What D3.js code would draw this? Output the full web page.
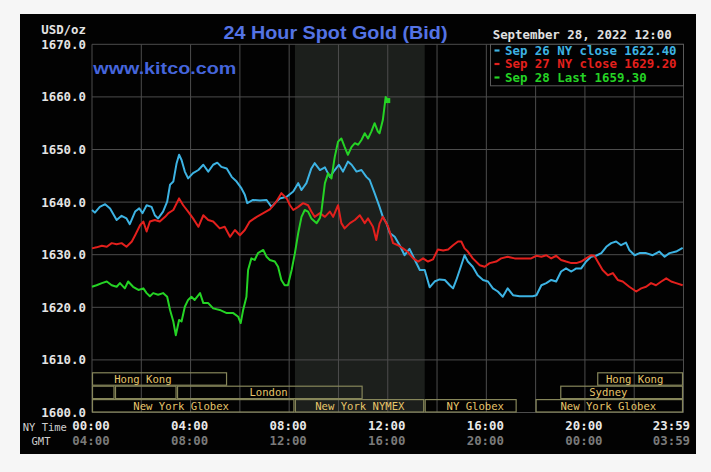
<!DOCTYPE html>
<html lang="en">
<head>
    <meta charset="UTF-8">
    <script src="https://d3js.org/d3.v7.min.js"></script>
    <style>
        body {
            margin: 0;
            background: #f6f6f6;
        }
        .mono { font-family: "DejaVu Sans Mono", monospace; }
        .ylab text, .tlab text {
            font-family: "DejaVu Sans Mono", monospace;
            font-size: 12.4px;
            font-weight: bold;
        }
    </style>
</head>
<body>
    <svg id="chart"></svg>

    <script>
        // y axis ticks (USD/oz)
        const yTicks = [1600, 1610, 1620, 1630, 1640, 1650, 1660, 1670];

        // time labels, minutes after NY midnight
        const labelMinutes = [0, 240, 480, 720, 960, 1200, 1439];
        const nyLabels = ["00:00", "04:00", "08:00", "12:00", "16:00", "20:00", "23:59"];
        const gmtLabels = ["04:00", "08:00", "12:00", "16:00", "20:00", "00:00", "03:59"];

        // series: [minute, price]
        const sep26 = [[0,1638.5],[7,1638.0],[19,1639.1],[32,1639.6],[44,1638.8],[60,1636.6],[72,1637.4],[84,1636.9],[92,1635.8],[105,1638.2],[115,1638.8],[123,1637.9],[133,1639.4],[145,1639.1],[153,1637.5],[161,1636.9],[173,1638.2],[183,1640.1],[190,1643.3],[198,1643.9],[206,1647.4],[212,1649.0],[218,1648.0],[226,1645.8],[234,1644.5],[246,1645.5],[259,1646.1],[271,1647.1],[283,1645.8],[295,1647.1],[305,1647.5],[315,1646.7],[328,1646.4],[340,1644.8],[352,1643.9],[364,1642.6],[372,1641.4],[378,1639.8],[392,1640.4],[409,1640.3],[425,1640.4],[437,1639.1],[449,1640.1],[457,1640.7],[474,1641.0],[490,1642.0],[502,1643.6],[510,1642.3],[522,1643.6],[534,1646.4],[542,1647.4],[555,1646.1],[567,1646.6],[579,1644.8],[591,1646.1],[601,1647.1],[611,1645.8],[623,1647.7],[632,1647.1],[644,1645.8],[656,1646.1],[668,1644.8],[676,1644.2],[688,1641.7],[700,1639.1],[708,1637.2],[717,1636.0],[725,1634.1],[737,1633.4],[749,1631.8],[761,1629.9],[773,1631.1],[786,1629.0],[798,1627.1],[810,1627.1],[822,1623.8],[834,1624.9],[846,1625.3],[859,1625.2],[871,1624.2],[879,1623.6],[887,1625.2],[899,1628.0],[907,1629.9],[915,1628.7],[927,1627.7],[939,1626.1],[952,1625.2],[964,1624.9],[976,1623.6],[988,1623.0],[1000,1622.0],[1012,1623.6],[1025,1622.3],[1041,1622.1],[1057,1622.1],[1073,1622.1],[1082,1622.3],[1094,1624.2],[1106,1624.6],[1118,1625.2],[1130,1624.9],[1142,1626.8],[1154,1627.4],[1167,1626.8],[1179,1627.4],[1191,1627.4],[1203,1628.7],[1215,1629.6],[1227,1629.8],[1240,1630.3],[1252,1631.5],[1264,1632.2],[1276,1632.5],[1288,1631.8],[1300,1632.3],[1308,1630.9],[1321,1629.9],[1333,1630.3],[1349,1630.3],[1365,1629.9],[1381,1630.6],[1394,1629.6],[1406,1630.3],[1422,1630.6],[1438,1631.3]];

        const sep27 = [[0,1631.2],[11,1631.4],[24,1631.7],[36,1631.5],[48,1632.2],[60,1632.0],[72,1632.2],[84,1631.5],[97,1632.5],[105,1633.7],[117,1635.6],[125,1636.3],[133,1634.4],[141,1636.3],[153,1636.6],[165,1636.3],[178,1637.2],[186,1637.9],[198,1638.5],[212,1640.7],[222,1639.4],[234,1638.2],[246,1636.9],[259,1635.3],[271,1637.5],[283,1636.6],[295,1636.3],[311,1635.0],[323,1635.3],[336,1633.4],[348,1634.7],[360,1633.7],[372,1634.7],[384,1636.3],[401,1637.2],[417,1637.9],[433,1638.6],[449,1640.1],[461,1641.7],[474,1640.7],[482,1639.4],[490,1638.5],[502,1639.1],[514,1639.8],[526,1639.4],[534,1638.2],[542,1637.2],[555,1637.9],[567,1637.2],[579,1638.2],[587,1637.2],[599,1639.4],[607,1636.0],[615,1635.0],[628,1636.0],[640,1636.6],[652,1637.5],[664,1636.0],[672,1636.9],[684,1635.3],[692,1632.8],[700,1635.9],[708,1637.2],[721,1635.3],[733,1632.2],[745,1631.8],[757,1631.2],[769,1630.5],[782,1629.3],[794,1628.7],[806,1629.3],[818,1628.7],[830,1629.1],[842,1631.0],[855,1630.8],[867,1631.0],[879,1631.8],[891,1632.5],[899,1632.5],[907,1631.2],[915,1630.6],[927,1629.3],[944,1628.0],[956,1627.7],[968,1628.4],[984,1628.7],[996,1629.3],[1012,1629.6],[1029,1629.3],[1049,1629.3],[1069,1629.3],[1082,1629.8],[1094,1629.6],[1106,1629.9],[1118,1629.3],[1130,1629.8],[1142,1629.0],[1154,1628.7],[1167,1628.4],[1179,1628.4],[1191,1628.7],[1203,1629.3],[1215,1629.9],[1223,1629.8],[1231,1628.7],[1243,1627.1],[1256,1626.1],[1268,1626.5],[1280,1625.2],[1292,1624.9],[1308,1623.9],[1325,1623.0],[1337,1623.6],[1349,1623.9],[1361,1624.6],[1373,1624.2],[1386,1624.9],[1398,1625.5],[1410,1624.9],[1422,1624.6],[1438,1624.2]];

        const sep28 = [[0,1623.9],[11,1624.2],[24,1624.6],[36,1624.9],[48,1624.2],[60,1623.9],[68,1624.6],[80,1623.6],[88,1624.9],[100,1623.9],[113,1623.3],[125,1623.6],[133,1622.7],[141,1622.1],[149,1622.7],[161,1622.4],[173,1622.7],[183,1622.0],[190,1619.5],[198,1617.3],[204,1614.7],[212,1617.6],[218,1617.3],[226,1620.1],[234,1621.4],[242,1622.0],[250,1621.4],[263,1622.7],[271,1620.8],[283,1620.8],[295,1619.8],[311,1619.5],[328,1618.9],[344,1618.9],[356,1618.2],[362,1617.0],[368,1619.5],[376,1622.0],[380,1627.1],[388,1629.3],[396,1629.0],[404,1630.3],[417,1630.9],[425,1629.6],[433,1629.0],[445,1628.7],[453,1627.7],[461,1625.2],[469,1624.2],[477,1624.2],[486,1627.1],[494,1630.3],[502,1634.1],[510,1637.2],[518,1638.5],[526,1638.2],[534,1636.9],[547,1636.0],[555,1637.0],[559,1638.5],[567,1643.6],[575,1645.5],[583,1644.5],[591,1648.6],[599,1651.5],[607,1652.1],[615,1650.5],[623,1649.0],[632,1650.5],[640,1651.2],[648,1650.9],[656,1651.8],[664,1653.1],[672,1652.1],[680,1653.4],[688,1655.0],[696,1653.4],[700,1653.1],[708,1655.6],[715,1660.0],[720,1659.3]];

        const legendTitle = "September 28, 2022 12:00";
        const legendText = ["Sep 26 NY close 1622.40", "Sep 27 NY close 1629.20", "Sep 28 Last 1659.30"];
        const seriesColors = ["#3db3e3", "#e3201d", "#25d325"];

        // trading sessions, minutes
        const sessionNames = ["Hong Kong", "Hong Kong", "", "", "London", "Sydney", "New York Globex", "New York NYMEX", "NY Globex", "New York Globex"];
        const sessionRow   = [0, 0, 1, 1, 1, 1, 2, 2, 2, 2];
        const sessionStart = [0, 1230, 0, 56, 207, 1140, 0, 494, 810, 1080];
        const sessionEnd   = [330, 1440, 56, 207, 660, 1440, 494, 810, 1035, 1440];
        const sessionLabelAt = [124, 1321, null, null, 430, 1257, 217, 652, 933, 1257];
        const nymexOpen = 494, nymexClose = 810;

        const W = 711, H = 472;
        const svg = d3.select("#chart").attr("width", W).attr("height", H);

        const x = d3.scaleLinear().domain([0, 1440]).range([92, 683.5]);
        const y = d3.scaleLinear().domain([1600, 1670]).range([412.5, 44.3]);

        svg.append("rect").attr("x", 20).attr("y", 14).attr("width", 676).attr("height", 440).attr("fill", "#020202");

        // NYMEX hours shading
        svg.append("rect")
            .attr("x", x(nymexOpen)).attr("y", y(1670))
            .attr("width", x(nymexClose) - x(nymexOpen))
            .attr("height", y(1600) - y(1670))
            .attr("fill", "#1c1f1c");

        // grid
        const gridColor = "#4d4d4d";
        svg.append("g").selectAll("line")
            .data(yTicks).enter().append("line")
            .attr("x1", x(0)).attr("x2", x(1440))
            .attr("y1", d => y(d)).attr("y2", d => y(d))
            .attr("stroke", gridColor).attr("stroke-width", 1);
        svg.append("g").selectAll("line")
            .data(d3.range(0, 1441, 120)).enter().append("line")
            .attr("x1", d => x(d)).attr("x2", d => x(d))
            .attr("y1", y(1670)).attr("y2", y(1600))
            .attr("stroke", gridColor).attr("stroke-width", 1);

        // session boxes
        const rowH = 13.4;
        const sess = sessionNames.map((n, i) => ({n, row: sessionRow[i], s: sessionStart[i], e: sessionEnd[i], at: sessionLabelAt[i]}));
        const rowTop = r => y(1600) - rowH * (3 - r);
        svg.append("g").selectAll("rect")
            .data(sess).enter().append("rect")
            .attr("x", d => x(d.s) + 0.5)
            .attr("y", d => rowTop(d.row) + 0.5)
            .attr("width", d => x(d.e) - x(d.s) - 1.5)
            .attr("height", rowH - 1)
            .attr("fill", "none")
            .attr("stroke", "#86865a")
            .attr("stroke-width", 1.2);
        svg.append("g").selectAll("text")
            .data(sess.filter(d => d.n)).enter().append("text")
            .attr("class", "mono")
            .attr("x", d => x(d.at))
            .attr("y", d => rowTop(d.row) + rowH / 2 + 4)
            .attr("text-anchor", "middle")
            .attr("font-size", "10.6px")
            .attr("fill", "#e6c56a")
            .text(d => d.n);

        // legend box covers the grid
        svg.append("rect")
            .attr("x", 490.5).attr("y", y(1670))
            .attr("width", x(1440) - 490.5).attr("height", 41.5)
            .attr("fill", "#020202").attr("stroke", "#5a5a5a");

        // price lines
        const line = d3.line().x(d => x(d[0])).y(d => y(d[1]));
        [sep26, sep27, sep28].forEach((s, i) => {
            svg.append("path")
                .datum(s)
                .attr("d", line)
                .attr("fill", "none")
                .attr("stroke", seriesColors[i])
                .attr("stroke-width", 2)
                .attr("stroke-linejoin", "round");
        });
        const last = sep28[sep28.length - 1];
        svg.append("rect")
            .attr("x", x(last[0]) - 2.5).attr("y", y(last[1]) - 2.5)
            .attr("width", 5).attr("height", 5)
            .attr("fill", seriesColors[2]);

        // y axis labels
        const yAxis = svg.append("g").attr("class", "ylab")
            .attr("transform", "translate(89,0)")
            .call(d3.axisLeft(y).tickValues(yTicks).tickFormat(d3.format(".1f")).tickSize(0).tickPadding(3));
        yAxis.select(".domain").remove();
        yAxis.selectAll("text").attr("fill", "#e4e4e4");

        svg.append("text").attr("class", "mono")
            .attr("x", 86).attr("y", 33.5).attr("text-anchor", "end")
            .attr("font-size", "12.4px").attr("font-weight", "bold")
            .attr("fill", "#e4e4e4").text("USD/oz");

        // time axes
        function timeAxis(labels, yPos, color) {
            const g = svg.append("g").attr("class", "tlab")
                .attr("transform", `translate(0,${yPos})`)
                .call(d3.axisBottom(x).tickValues(labelMinutes).tickFormat((d, i) => labels[i]).tickSize(0).tickPadding(0));
            g.select(".domain").remove();
            g.selectAll("text").attr("fill", color).attr("dy", "0.35em")
                .attr("x", -1.5);
            g.selectAll(".tick").filter(d => d === 1439).select("text")
                .attr("text-anchor", "end").attr("x", 6.5);
        }
        timeAxis(nyLabels, 426, "#e8e8e8");
        timeAxis(gmtLabels, 441, "#7a7a7a");

        svg.append("text").attr("class", "mono")
            .attr("x", 22.7).attr("y", 430.5)
            .attr("font-size", "10.5px").attr("fill", "#cfcfcf").text("NY Time");
        svg.append("text").attr("class", "mono")
            .attr("x", 31.5).attr("y", 444.5)
            .attr("font-size", "10.5px").attr("fill", "#cfcfcf").text("GMT");

        // titles
        svg.append("text")
            .attr("x", 335.5).attr("y", 38.5).attr("text-anchor", "middle")
            .attr("font-family", "'Liberation Sans', Arial, sans-serif")
            .attr("font-weight", "bold").attr("font-size", "18.5px")
            .attr("textLength", 224).attr("lengthAdjust", "spacingAndGlyphs")
            .attr("fill", "#5473e4").text("24 Hour Spot Gold (Bid)");
        svg.append("text")
            .attr("x", 93.3).attr("y", 74)
            .attr("font-family", "'Liberation Sans', Arial, sans-serif")
            .attr("font-weight", "bold").attr("font-size", "17px")
            .attr("textLength", 143).attr("lengthAdjust", "spacingAndGlyphs")
            .attr("fill", "#4565dc").text("www.kitco.com");

        // legend
        svg.append("text").attr("class", "mono")
            .attr("x", 492.7).attr("y", 39.3)
            .attr("font-size", "12.4px").attr("font-weight", "bold")
            .attr("fill", "#e0e0e0").text(legendTitle);
        const legendY = [50.5, 64, 77.5];
        legendText.forEach((t, i) => {
            svg.append("line")
                .attr("x1", 494.5).attr("x2", 499.5)
                .attr("y1", legendY[i]).attr("y2", legendY[i])
                .attr("stroke", seriesColors[i]).attr("stroke-width", 2.2);
            svg.append("text").attr("class", "mono")
                .attr("x", 505).attr("y", legendY[i] + 4.3)
                .attr("font-size", "12.4px").attr("font-weight", "bold")
                .attr("fill", seriesColors[i]).text(t);
        });
    </script>
</body>
</html>
